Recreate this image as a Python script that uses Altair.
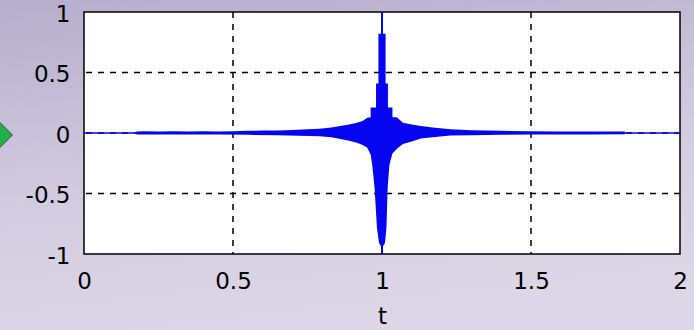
import altair as alt
import pandas as pd

# ---- data ----
x_domain = [0, 2]
y_domain = [-1, 1]
x_ticks = [0, 0.5, 1, 1.5, 2]
y_ticks = [-1, -0.5, 0, 0.5, 1]
grid_x = [0.5, 1, 1.5]
grid_y = [-0.5, 0, 0.5]

# upper envelope of the oscillating signal
t_up = [0.176, 0.20, 0.25, 0.30, 0.35, 0.40, 0.45, 0.50, 0.55, 0.60, 0.65, 0.70,
        0.75, 0.79, 0.83, 0.86, 0.89, 0.916, 0.935, 0.95, 0.962, 0.962, 0.98, 0.98,
        0.988, 0.988, 1.012, 1.012, 1.02, 1.02, 1.035, 1.035, 1.05, 1.07, 1.10,
        1.13, 1.17, 1.23, 1.30, 1.40, 1.50, 1.60, 1.70, 1.815]
v_up = [0.012, 0.015, 0.012, 0.015, 0.013, 0.015, 0.012, 0.015, 0.018, 0.02, 0.02, 0.025,
        0.03, 0.035, 0.045, 0.058, 0.07, 0.085, 0.10, 0.126, 0.13, 0.21, 0.21, 0.41,
        0.41, 0.82, 0.82, 0.41, 0.41, 0.21, 0.21, 0.13, 0.13, 0.085, 0.07,
        0.058, 0.045, 0.03, 0.022, 0.018, 0.015, 0.013, 0.012, 0.012]

# lower envelope of the oscillating signal
t_lo = [0.176, 0.25, 0.35, 0.45, 0.55, 0.65, 0.72, 0.79, 0.83, 0.86, 0.89, 0.916,
        0.935, 0.95, 0.962, 0.967, 0.975, 0.983, 0.99, 1.0, 1.01, 1.015, 1.019,
        1.025, 1.035, 1.05, 1.07, 1.10, 1.13, 1.17, 1.23, 1.30, 1.40, 1.50, 1.60,
        1.70, 1.815]
v_lo = [-0.012, -0.012, -0.013, -0.013, -0.015, -0.018, -0.022, -0.026, -0.035, -0.05,
        -0.065, -0.08, -0.10, -0.12, -0.18, -0.26, -0.45, -0.78, -0.91, -0.95, -0.91,
        -0.78, -0.45, -0.26, -0.17, -0.13, -0.09, -0.07, -0.045, -0.035, -0.02, -0.018,
        -0.015, -0.013, -0.012, -0.012, -0.01]

# central spike and the zero baseline of the signal
spike_t = [1.0]
spike_lo = [-1.0]
spike_hi = [1.0]
base_t = [0, 2]
base_v = [0, 0]

BLUE = "#0505f2"
FONT = "DejaVu Sans"

xs = alt.Scale(domain=x_domain, nice=False, zero=False)
ys = alt.Scale(domain=y_domain, nice=False, zero=False)

x_axis = alt.Axis(values=x_ticks, title="t", zindex=2, labelPadding=16, titlePadding=12,
                  labelExpr="toString(datum.value)")
y_axis = alt.Axis(values=y_ticks, title="", zindex=2, labelPadding=14, labelOffset=2,
                  labelExpr="toString(datum.value)")

one = pd.DataFrame({"k": [0]})

bg = alt.Chart(one).mark_rect(
    fill=alt.LinearGradient(
        gradient="linear", x1=0, y1=0, x2=0.25, y2=1,
        stops=[alt.GradientStop(color="#b6aecb", offset=0),
               alt.GradientStop(color="#d3cce0", offset=0.6),
               alt.GradientStop(color="#dcd6e6", offset=1)]),
    strokeWidth=0,
).encode(x=alt.value(-84), x2=alt.value(610), y=alt.value(-12), y2=alt.value(318))

frame = alt.Chart(pd.DataFrame({"x0": [x_domain[0]], "x1": [x_domain[1]],
                                "y0": [y_domain[0]], "y1": [y_domain[1]]})).mark_rect(
    fill="white", stroke="black", strokeWidth=1.5
).encode(
    x=alt.X("x0:Q", scale=xs, axis=x_axis),
    x2="x1:Q",
    y=alt.Y("y0:Q", scale=ys, axis=y_axis),
    y2="y1:Q",
)

gx = alt.Chart(pd.DataFrame({"g": grid_x})).mark_rule(
    color="black", strokeWidth=1.5, strokeDash=[6, 6]
).encode(x=alt.X("g:Q", scale=xs, axis=x_axis))

gy = alt.Chart(pd.DataFrame({"g": grid_y})).mark_rule(
    color="black", strokeWidth=1.5, strokeDash=[6, 6]
).encode(y=alt.Y("g:Q", scale=ys, axis=y_axis))

base = alt.Chart(pd.DataFrame({"t": base_t, "v": base_v})).mark_line(
    color=BLUE, strokeWidth=1.3
).encode(x=alt.X("t:Q", scale=xs, axis=x_axis), y=alt.Y("v:Q", scale=ys, axis=y_axis))

up = alt.Chart(pd.DataFrame({"t": t_up, "v": v_up, "z": [0] * len(t_up)})).mark_area(
    color=BLUE, opacity=1
).encode(
    x=alt.X("t:Q", scale=xs, axis=x_axis),
    y=alt.Y("v:Q", scale=ys, axis=y_axis, stack=None),
    y2="z:Q",
)

lo = alt.Chart(pd.DataFrame({"t": t_lo, "v": v_lo, "z": [0] * len(t_lo)})).mark_area(
    color=BLUE, opacity=1
).encode(
    x=alt.X("t:Q", scale=xs, axis=x_axis),
    y=alt.Y("v:Q", scale=ys, axis=y_axis, stack=None),
    y2="z:Q",
)

spike = alt.Chart(pd.DataFrame({"t": spike_t, "a": spike_lo, "b": spike_hi})).mark_rule(
    color=BLUE, strokeWidth=2
).encode(
    x=alt.X("t:Q", scale=xs, axis=x_axis),
    y=alt.Y("a:Q", scale=ys, axis=y_axis),
    y2="b:Q",
)

arrow = alt.Chart(one).mark_point(
    shape="diamond", filled=True, fill="#1fb04a", stroke="#4a4a4a", strokeWidth=1,
    size=620, opacity=1
).encode(x=alt.value(-84), y=alt.value(123))

chart = alt.layer(bg, frame, gx, gy, base, up, lo, spike, arrow).properties(
    width=596, height=242,
    autosize=alt.AutoSizeParams(type="none"),
    padding={"left": 84, "top": 12, "right": 14, "bottom": 76},
).configure_view(stroke=None).configure_axis(
    grid=False, domain=False, ticks=False,
    labelFont=FONT, labelFontSize=23, labelColor="black",
    labelFlush=False, labelOverlap=False,
    titleFont=FONT, titleFontSize=23, titleFontWeight="normal", titleColor="black",
)

chart.save("out.html", embed_options={"renderer": "svg", "actions": False})
